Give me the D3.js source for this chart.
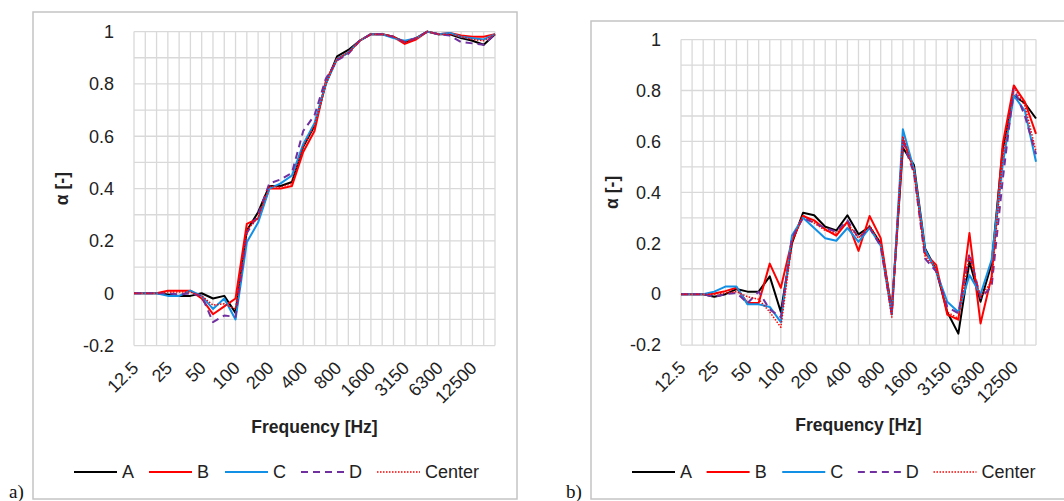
<!DOCTYPE html>
<html>
<head>
<meta charset="utf-8">
<script src="https://cdn.jsdelivr.net/npm/d3@7/dist/d3.min.js"></script>
<style>
  html, body { margin: 0; padding: 0; background: #fff; }
  svg { display: block; font-family: "Liberation Sans", Arial, sans-serif; }
</style>
</head>
<body>
<div id="chart"></div>
<script>
// 1/3 octave band centres
var freqs = ["12.5", "16", "20", "25", "31.5", "40", "50", "63", "80", "100", "125", "160",
    "200", "250", "315", "400", "500", "630", "800", "1000", "1250", "1600", "2000", "2500",
    "3150", "4000", "5000", "6300", "8000", "10000", "12500", "16000", "20000"];
var tickLabels = ["12.5", "25", "50", "100", "200", "400", "800", "1600", "3150", "6300", "12500"];
var yTicks = [-0.2, 0, 0.2, 0.4, 0.6, 0.8, 1];
var seriesNames = ["A", "B", "C", "D", "Center"];

// panel a)
var aA = [0, 0, 0, -0.005, -0.01, -0.01, 0, -0.02, -0.01, -0.075, 0.24, 0.31, 0.41, 0.41, 0.425, 0.56, 0.64,
    0.80, 0.905, 0.93, 0.965, 0.99, 0.99, 0.98, 0.96, 0.975, 1.0, 0.99, 0.99, 0.975, 0.965, 0.95, 0.99];
var aB = [0, 0, 0, 0.01, 0.01, 0.01, -0.02, -0.08, -0.05, -0.02, 0.265, 0.285, 0.40, 0.40, 0.41, 0.54, 0.62,
    0.81, 0.895, 0.92, 0.965, 0.99, 0.99, 0.98, 0.953, 0.97, 1.0, 0.99, 0.995, 0.985, 0.98, 0.98, 0.99];
var aC = [0, 0, 0, -0.01, -0.01, 0.01, -0.01, -0.06, -0.02, -0.10, 0.195, 0.27, 0.40, 0.42, 0.45, 0.57, 0.65,
    0.80, 0.895, 0.92, 0.965, 0.99, 0.99, 0.975, 0.965, 0.975, 1.0, 0.99, 0.995, 0.98, 0.975, 0.97, 0.99];
var aD = [0, 0, 0, 0, -0.005, 0, -0.01, -0.11, -0.085, -0.09, 0.23, 0.30, 0.42, 0.435, 0.46, 0.62, 0.68,
    0.82, 0.89, 0.915, 0.965, 0.99, 0.99, 0.98, 0.96, 0.975, 1.0, 0.99, 0.985, 0.96, 0.955, 0.95, 0.99];
var aCenter = [0, 0, 0, 0.005, 0.005, 0.005, -0.01, -0.045, -0.04, -0.06, 0.24, 0.29, 0.41, 0.405, 0.42, 0.56, 0.64,
    0.80, 0.895, 0.92, 0.965, 0.99, 0.99, 0.98, 0.96, 0.975, 1.0, 0.99, 0.99, 0.98, 0.97, 0.965, 0.99];

// panel b)
var bA = [0, 0, 0, -0.01, 0, 0.02, 0.01, 0.01, 0.07, -0.07, 0.20, 0.32, 0.31, 0.265, 0.25, 0.31, 0.235,
    0.265, 0.20, -0.06, 0.575, 0.507, 0.18, 0.095, -0.07, -0.155, 0.128, -0.03, 0.12, 0.57, 0.78, 0.75, 0.69];
var bB = [0, 0, 0, 0.003, 0.012, 0.025, -0.035, -0.035, 0.12, 0.025, 0.21, 0.307, 0.29, 0.255, 0.23, 0.285, 0.17,
    0.307, 0.22, -0.07, 0.61, 0.49, 0.16, 0.115, -0.08, -0.10, 0.24, -0.115, 0.07, 0.59, 0.82, 0.755, 0.63];
var bC = [0, 0, 0, 0.01, 0.03, 0.03, -0.04, -0.04, -0.05, -0.11, 0.23, 0.30, 0.26, 0.22, 0.21, 0.26, 0.205,
    0.26, 0.19, -0.08, 0.648, 0.49, 0.175, 0.09, -0.03, -0.07, 0.075, 0.0, 0.135, 0.51, 0.78, 0.72, 0.52];
var bD = [0, 0, 0, -0.01, 0, 0.005, -0.035, 0.01, -0.06, -0.09, 0.22, 0.30, 0.28, 0.26, 0.245, 0.29, 0.22,
    0.26, 0.19, -0.08, 0.60, 0.475, 0.14, 0.09, -0.05, -0.075, 0.16, -0.015, 0.03, 0.45, 0.81, 0.70, 0.55];
var bCenter = [0, 0, 0, 0, 0.005, 0.01, -0.01, -0.02, -0.07, -0.13, 0.20, 0.31, 0.28, 0.25, 0.24, 0.28, 0.22,
    0.27, 0.20, -0.09, 0.62, 0.48, 0.15, 0.10, -0.07, -0.095, 0.15, -0.01, 0.05, 0.54, 0.815, 0.74, 0.56];

var styles = {
    "A":      { color: "#000000", dash: null,      width: 2 },
    "B":      { color: "#ff0000", dash: null,      width: 2 },
    "C":      { color: "#1190e6", dash: null,      width: 2 },
    "D":      { color: "#7030a0", dash: "7,5",     width: 2 },
    "Center": { color: "#ff0000", dash: "1.5,1.5", width: 1.5 }
};

var W = 1064, H = 501;
var svg = d3.select("#chart").append("svg")
    .attr("width", W)
    .attr("height", H);

function drawPanel(p) {
    var g = svg.append("g");

    g.append("rect")
        .attr("x", p.frame[0]).attr("y", p.frame[1])
        .attr("width", p.frame[2]).attr("height", p.frame[3])
        .attr("fill", "#fff")
        .attr("stroke", "#c4c4c4")
        .attr("stroke-width", 1.5);

    g.append("text")
        .attr("x", p.tag[0]).attr("y", p.tag[1])
        .attr("font-family", "'Liberation Serif', 'Times New Roman', serif")
        .attr("font-size", 19)
        .attr("fill", "#111")
        .text(p.label);

    var x = d3.scalePoint().domain(freqs).range([p.x0, p.x1]);
    var y = d3.scaleLinear().domain([-0.2, 1]).range([p.yBot, p.yTop]);

    // grid
    var grid = g.append("g").attr("stroke", "#d9d9d9").attr("stroke-width", 1.3);
    grid.selectAll("line.v").data(freqs).enter().append("line")
        .attr("x1", function(d) { return x(d); }).attr("x2", function(d) { return x(d); })
        .attr("y1", p.yTop).attr("y2", p.yBot);
    grid.selectAll("line.h").data(d3.range(-2, 11)).enter().append("line")
        .attr("x1", p.x0).attr("x2", p.x1)
        .attr("y1", function(d) { return y(d / 10); }).attr("y2", function(d) { return y(d / 10); });

    // y axis labels
    g.selectAll("text.ytick").data(yTicks).enter().append("text")
        .attr("x", p.x0 - 20)
        .attr("y", function(d) { return y(d); })
        .attr("dy", "0.35em")
        .attr("text-anchor", "end")
        .attr("font-size", 18)
        .attr("fill", "#222")
        .text(function(d) { return d === 0 ? "0" : String(d); });

    // x axis labels, rotated
    g.selectAll("text.xtick").data(tickLabels).enter().append("text")
        .attr("transform", function(d) {
            return "translate(" + (x(d) + 1) + "," + (p.yBot + 19) + ") rotate(-45)";
        })
        .attr("dy", "0.35em")
        .attr("text-anchor", "end")
        .attr("font-size", 18)
        .attr("fill", "#222")
        .text(function(d) { return d; });

    g.append("text")
        .attr("x", (p.x0 + p.x1) / 2)
        .attr("y", p.xTitleY)
        .attr("dy", "0.35em")
        .attr("text-anchor", "middle")
        .attr("font-size", 17.5)
        .attr("font-weight", "bold")
        .attr("fill", "#222")
        .text("Frequency [Hz]");

    g.append("text")
        .attr("transform", "translate(" + p.yTitleX + "," + ((p.yTop + p.yBot) / 2) + ") rotate(-90)")
        .attr("dy", "0.35em")
        .attr("text-anchor", "middle")
        .attr("font-size", 17.5)
        .attr("font-weight", "bold")
        .attr("fill", "#222")
        .text("α [-]");

    var line = d3.line()
        .x(function(d, i) { return x(freqs[i]); })
        .y(function(d) { return y(d); });

    seriesNames.forEach(function(name, k) {
        var s = styles[name];
        g.append("path")
            .datum(p.series[k])
            .attr("fill", "none")
            .attr("stroke", s.color)
            .attr("stroke-width", s.width)
            .attr("stroke-dasharray", s.dash)
            .attr("stroke-linejoin", "round")
            .attr("d", line);
    });

    // legend
    var lg = g.append("g").attr("transform", "translate(" + p.legend[0] + "," + p.legend[1] + ")");
    var offsets = [0, 75, 151, 227, 303];
    seriesNames.forEach(function(name, k) {
        var s = styles[name];
        var item = lg.append("g").attr("transform", "translate(" + offsets[k] * p.legendScale + ",0)");
        item.append("line")
            .attr("x1", 0).attr("x2", 43).attr("y1", 0).attr("y2", 0)
            .attr("stroke", s.color)
            .attr("stroke-width", s.width)
            .attr("stroke-dasharray", s.dash);
        item.append("text")
            .attr("x", 48).attr("y", 0).attr("dy", "0.35em")
            .attr("font-size", 18)
            .attr("fill", "#222")
            .text(name);
    });
}

drawPanel({
    label: "a)", tag: [9, 498],
    frame: [33, 12, 484, 487],
    x0: 134, x1: 495, yTop: 31.6, yBot: 345.6,
    yTitleX: 62, xTitleY: 427,
    legend: [74, 472], legendScale: 1,
    series: [aA, aB, aC, aD, aCenter]
});

drawPanel({
    label: "b)", tag: [566, 498],
    frame: [591, 21, 520, 478],
    x0: 681, x1: 1036, yTop: 39.6, yBot: 345.1,
    yTitleX: 612, xTitleY: 425,
    legend: [632, 472], legendScale: 0.995,
    series: [bA, bB, bC, bD, bCenter]
});
</script>
</body>
</html>
